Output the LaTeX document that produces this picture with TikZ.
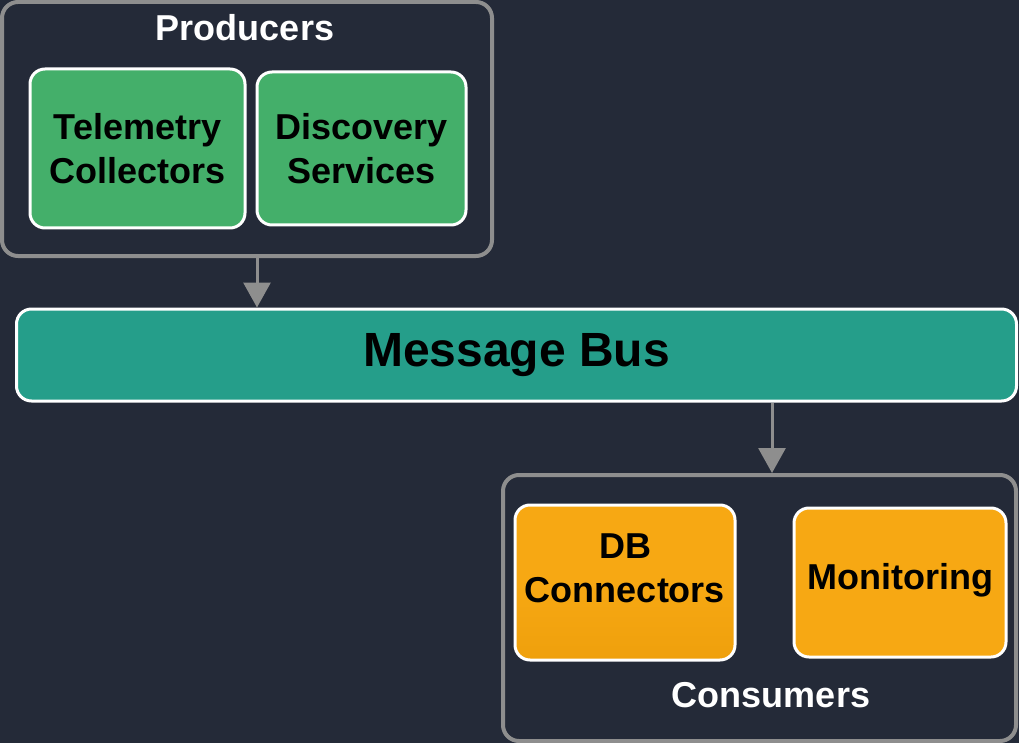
\documentclass[tikz,border=0pt]{standalone}
\usepackage{fontspec}
\setmainfont{Liberation Sans}
\usetikzlibrary{arrows.meta}
\definecolor{bg}{HTML}{242A38}
\definecolor{grn}{HTML}{44AF6A}
\definecolor{teal}{HTML}{259E8A}
\definecolor{org}{HTML}{F7A813}
\definecolor{orgd}{HTML}{EFA00C}
\definecolor{frame}{HTML}{8E8E8E}
\tikzset{
  comp/.style={draw=white, line width=3pt, rounded corners=15pt, align=center,
    font=\bfseries\fontsize{36}{44}\selectfont, text=black, inner sep=0pt},
  title/.style={font=\bfseries\fontsize{36}{42}\selectfont, text=white},
  grp/.style={draw=frame, line width=4pt, rounded corners=16pt},
  arr/.style={draw=frame, line width=3pt, -{Triangle[width=27pt,length=25pt]}},
}
\begin{document}
\begin{tikzpicture}[x=1pt,y=-1pt]
\fill[bg] (0,0) rectangle (1019,743);
\useasboundingbox (0,0) rectangle (1019,743);
% Producers group
\node (prod) [grp, minimum width=490pt, minimum height=254pt] at (247,129) {};
\node (prodt) [title] at (245,28) {Producers};
\node (tel) [comp, fill=grn, minimum width=215pt, minimum height=159pt] at (137.5,148.5) {Telemetry\\Collectors};
\node (dis) [comp, fill=grn, minimum width=209pt, minimum height=153pt] at (361.5,148.5) {Discovery\\Services};
% Message bus
\node (bus) [draw=white, line width=3pt, rounded corners=15pt, fill=teal, minimum width=1000pt, minimum height=92pt, text=black, font=\bfseries\fontsize{48}{56}\selectfont] at (516.5,355) {Message Bus};
% Consumers group
\node (cons) [grp, minimum width=513pt, minimum height=266pt] at (759.5,608) {};
\node (const) [title] at (771,695) {Consumers};
\node (db) [comp, top color=org, bottom color=orgd, middle color=org, minimum width=220pt, minimum height=155pt] at (625,582.5) {};
\node (dbt) [font=\bfseries\fontsize{36}{44}\selectfont, align=center, text=black] at (625,568) {DB\\Connectors};
\node (mon) [comp, fill=org, minimum width=212pt, minimum height=149pt] at (900,582.5) {};
\node (mont) [font=\bfseries\fontsize{36}{44}\selectfont, text=black] at (900,580) {Monitoring};
% Arrows
\coordinate (a1) at (257,0);
\coordinate (a2) at (772,0);
\draw[arr] (prod.south -| a1) -- (bus.north -| a1);
\draw[arr] (bus.south -| a2) -- (cons.north -| a2);
\end{tikzpicture}
\end{document}
